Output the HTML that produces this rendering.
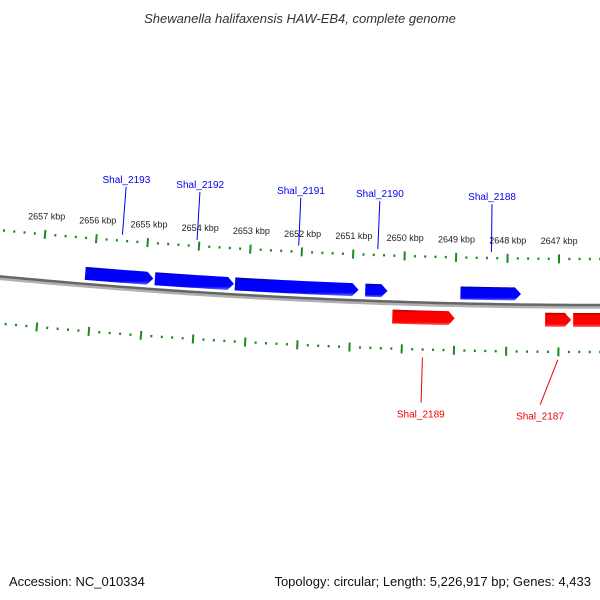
<!DOCTYPE html>
<html><head><meta charset="utf-8"><style>
html,body{margin:0;padding:0;background:#fff;}
svg{display:block;font-family:"Liberation Sans",sans-serif;}
</style></head><body>
<svg id="map" width="600" height="600" viewBox="0 0 600 600" xmlns="http://www.w3.org/2000/svg">
<defs>
<linearGradient id="gBlue" x1="0" y1="0" x2="0" y2="1">
<stop offset="0" stop-color="#0000a0"/><stop offset="0.2" stop-color="#0000ff"/><stop offset="0.8" stop-color="#0000ff"/><stop offset="1" stop-color="#7070ff"/></linearGradient>
<linearGradient id="gRed" x1="0" y1="0" x2="0" y2="1">
<stop offset="0" stop-color="#b00000"/><stop offset="0.2" stop-color="#ff0000"/><stop offset="0.8" stop-color="#ff0000"/><stop offset="1" stop-color="#ff7070"/></linearGradient>
</defs>
<text x="300" y="23" text-anchor="middle" font-size="13" font-style="italic" fill="#333">Shewanella halifaxensis HAW-EB4, complete genome</text>
<g id="ticks"></g>
<g id="backbone"></g>
<g id="genes"></g>
<g id="glabels"></g>
<text x="9" y="586" font-size="13" fill="#111">Accession: NC_010334</text>
<text x="591" y="586" text-anchor="end" font-size="13" fill="#111">Topology: circular; Length: 5,226,917 bp; Genes: 4,433</text>
</svg>
<script>
// data
const geneNames = ["Shal_2193","Shal_2192","Shal_2191","Shal_2190","Shal_2188","Shal_2189","Shal_2187","Shal_2186"];
const geneStart = [2656.16,2654.81,2653.26,2650.74,2648.90,2650.20,2647.26,2646.72];
const geneEnd   = [2654.84,2653.28,2650.87,2650.31,2647.73,2649.00,2646.76,2645.90];
const geneStrand = [1,1,1,1,1,-1,-1,-1];
const geneLabelKbp = [2655.5,2654.05,2652.07,2650.52,2648.32,2649.6,2647.34,null];
const tickLabelKbp = [2647,2648,2649,2650,2651,2652,2653,2654,2655,2656,2657];

const NS="http://www.w3.org/2000/svg";
const CX=600, R0=6300, CY=305-R0;
const TH0=-0.006556, PERK=0.0082294;
function ang(k){return TH0-(k-2647)*PERK;}
function P(r,k){const t=ang(k);return [CX+r*Math.sin(t), CY+r*Math.cos(t)];}
function mk(tag,attrs,parent){const e=document.createElementNS(NS,tag);for(const a in attrs)e.setAttribute(a,attrs[a]);parent.appendChild(e);return e;}

// ticks
const tg=document.getElementById('ticks');
[6254,6347].forEach((rc,ri)=>{
  for(let i=0;i<=65;i++){
    const k=2645+i*0.2;
    const major=Math.abs(k-Math.round(k))<1e-6;
    const h=major?4.5:1.2;
    const a=P(rc-h,k), b=P(rc+h,k);
    const ln=mk('line',{x1:a[0].toFixed(2),y1:a[1].toFixed(2),x2:b[0].toFixed(2),y2:b[1].toFixed(2),stroke:'#1a8a1a','stroke-width':2},tg);
    
    
  }
});
tickLabelKbp.forEach(k=>{
  const p=P(6236,k);
  const t=mk('text',{x:p[0].toFixed(1),y:(p[1]+3).toFixed(1),'text-anchor':'middle','font-size':9,fill:'#222'},tg);
  t.textContent=k+' kbp';
  
  
});

// backbone
const bg=document.getElementById('backbone');
function arcPath(r,k1,k2,n){let d='';for(let i=0;i<=n;i++){const k=k1+(k2-k1)*i/n;const p=P(r,k);d+=(i?'L':'M')+p[0].toFixed(2)+' '+p[1].toFixed(2);}return d;}
const sh=mk('path',{d:arcPath(6301.5,2645,2659,80),fill:'none',stroke:'#b0b0b0','stroke-width':4.5},bg);


const bb=mk('path',{d:arcPath(6300,2645,2659,80),fill:'none',stroke:'#666','stroke-width':2.5},bg);



// genes
const gg=document.getElementById('genes');
const gl=document.getElementById('glabels');
geneNames.forEach((nm,i)=>{
  const s=geneStrand[i];
  const r1=s>0?6283:6308, r2=s>0?6296:6322, rm=(r1+r2)/2;
  const k1=geneStart[i], k2=geneEnd[i];
  const dir=Math.sign(k2-k1);
  const tip=0.12;
  const kb=Math.abs(k2-k1)>tip?k2-dir*tip:k1;
  const pts=[];
  const n=20;
  for(let j=0;j<=n;j++)pts.push(P(r1,k1+(kb-k1)*j/n));
  pts.push(P(rm,k2));
  for(let j=n;j>=0;j--)pts.push(P(r2,k1+(kb-k1)*j/n));
  const pg=mk('polygon',{points:pts.map(p=>p[0].toFixed(2)+','+p[1].toFixed(2)).join(' '),fill:s>0?'url(#gBlue)':'url(#gRed)'},gg);
  
  
  const lk=geneLabelKbp[i];
  if(lk===null)return;
  const mid=(k1+k2)/2;
  const col=s>0?'#0000ee':'#ee0000';
  let a,b,tp;
  if(s>0){a=P(6248,mid);b=P(6200,lk);tp=P(6196,lk);}
  else{a=P(6355,mid);b=P(6400,lk);tp=P(6411,lk);}
  const ln=mk('line',{x1:a[0].toFixed(2),y1:a[1].toFixed(2),x2:b[0].toFixed(2),y2:b[1].toFixed(2),stroke:col,'stroke-width':1},gl);
  
  
  const t=mk('text',{x:tp[0].toFixed(1),y:(tp[1]+(s>0?0:4)).toFixed(1),'text-anchor':'middle','font-size':10,fill:col},gl);
  t.textContent=nm;
  
  
});
</script>
</body></html>
